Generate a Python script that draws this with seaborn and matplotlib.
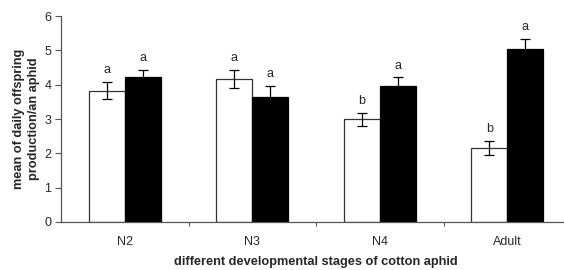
import pandas as pd
import seaborn as sns
import matplotlib.pyplot as plt
from matplotlib.ticker import FixedLocator

# data
stages = ['N2', 'N3', 'N4', 'Adult']
white_mean = [3.82, 4.16, 2.99, 2.15]
white_se = [0.25, 0.26, 0.19, 0.20]
black_mean = [4.21, 3.63, 3.97, 5.04]
black_se = [0.22, 0.34, 0.24, 0.29]
white_letters = ['a', 'a', 'b', 'b']
black_letters = ['a', 'a', 'a', 'a']

df = pd.DataFrame({
    'stage': stages * 2,
    'group': ['white'] * 4 + ['black'] * 4,
    'mean': white_mean + black_mean,
    'se': white_se + black_se,
    'letter': white_letters + black_letters,
})

sns.set_style('white')
plt.rcParams['font.family'] = ['Liberation Sans', 'DejaVu Sans']

fig = plt.figure(figsize=(5.64, 2.7), dpi=100)
ax = fig.add_axes([61 / 564, 1 - 222 / 270, 510 / 564, 206 / 270])

sns.barplot(data=df, x='stage', y='mean', hue='group', hue_order=['white', 'black'],
            palette=['white', 'black'], width=0.565, gap=0, errorbar=None,
            legend=False, ax=ax)

# outline, error bars and significance letters
for i, p in enumerate(ax.patches[:8]):
    row = df.iloc[i]
    p.set_edgecolor('#333333' if row['group'] == 'white' else 'black')
    p.set_linewidth(0.9)
    xc = p.get_x() + p.get_width() / 2
    ax.errorbar(xc, row['mean'], yerr=row['se'], fmt='none', ecolor='black',
                elinewidth=0.9, capsize=3.5, capthick=0.9)
    ax.text(xc, row['mean'] + row['se'] + 0.17, row['letter'], ha='center',
            va='bottom', fontsize=9)

ax.set_xlim(-0.5, 3.5)
ax.set_ylim(0, 6)
ax.set_yticks(range(0, 7))
ax.tick_params(axis='y', direction='out', length=4, width=0.8, color='#555555',
               labelsize=9, pad=3, left=True)
ax.xaxis.set_major_locator(FixedLocator(range(4)))
ax.set_xticklabels(stages)
ax.tick_params(axis='x', which='major', length=0, labelsize=9, pad=10)
ax.xaxis.set_minor_locator(FixedLocator([0.5, 1.5, 2.5]))
ax.tick_params(axis='x', which='minor', direction='out', length=3, width=0.8,
               color='#555555', bottom=True)

sns.despine(ax=ax, top=True, right=True)
for s in ['left', 'bottom']:
    ax.spines[s].set_color('#555555')
    ax.spines[s].set_linewidth(0.9)

ax.set_xlabel('different developmental stages of cotton aphid', fontsize=9.2,
              fontweight='bold', labelpad=6)
ax.set_ylabel('mean of daily offspring\nproduction/an aphid', fontsize=9.2,
              fontweight='bold', labelpad=3, linespacing=1.4)

plt.savefig('out.png', dpi=100)
